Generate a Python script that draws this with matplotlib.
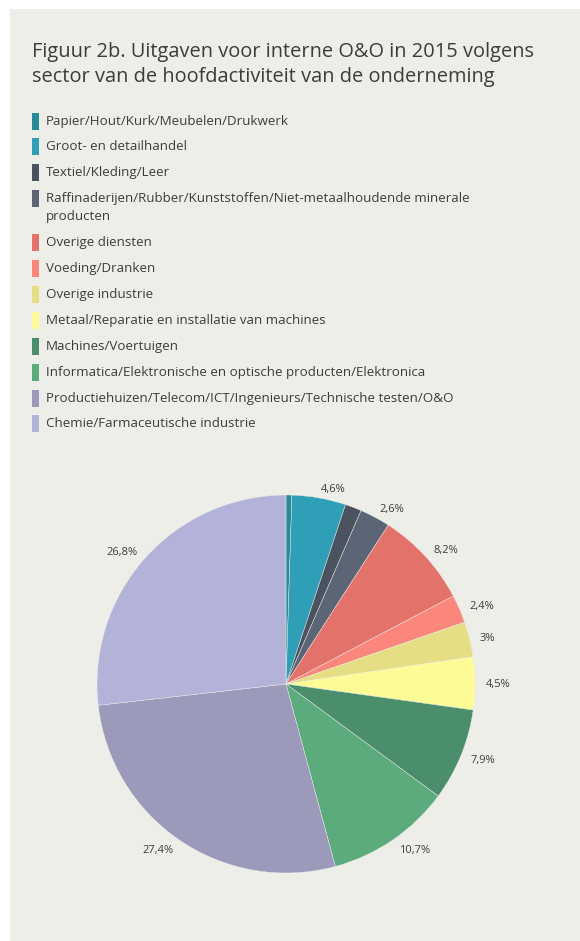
import numpy as np
import matplotlib
matplotlib.use("Agg")
import matplotlib.pyplot as plt
from matplotlib.patches import Rectangle

# --- data ---
sectors = [
    "Papier/Hout/Kurk/Meubelen/Drukwerk",
    "Groot- en detailhandel",
    "Textiel/Kleding/Leer",
    "Raffinaderijen/Rubber/Kunststoffen/Niet-metaalhoudende minerale\nproducten",
    "Overige diensten",
    "Voeding/Dranken",
    "Overige industrie",
    "Metaal/Reparatie en installatie van machines",
    "Machines/Voertuigen",
    "Informatica/Elektronische en optische producten/Elektronica",
    "Productiehuizen/Telecom/ICT/Ingenieurs/Technische testen/O&O",
    "Chemie/Farmaceutische industrie",
]
shares = [0.5, 4.6, 1.4, 2.6, 8.2, 2.4, 3.0, 4.5, 7.9, 10.7, 27.4, 26.8]
show_label = [False, True, False, True, True, True, True, True, True, True, True, True]
colors = ["#268a99", "#2e9fb6", "#4b5260", "#5b6576", "#e3726a", "#fb877c",
          "#e6de85", "#fdfb95", "#4a8e6b", "#5bab7d", "#9c9aba", "#b3b3da"]

BG = "#eeeee9"
TXT = "#3c3c3c"
plt.rcParams["font.family"] = ["Open Sans", "DejaVu Sans"]

W, H = 580, 941
fig = plt.figure(figsize=(W / 100, H / 100), dpi=100)
fig.patch.set_facecolor("white")

# grey panel behind everything
panel = Rectangle((10 / W, 0), 1 - 10 / W, 1 - 9 / H, transform=fig.transFigure,
                  facecolor=BG, edgecolor="none", zorder=-10)
fig.add_artist(panel)

# title
fig.text(32 / W, 1 - 57 / H, "Figuur 2b. Uitgaven voor interne O&O in 2015 volgens",
         fontsize=14.4, color=TXT, va="baseline", ha="left")
fig.text(32 / W, 1 - 82 / H, "sector van de hoofdactiviteit van de onderneming",
         fontsize=14.4, color=TXT, va="baseline", ha="left")

# legend, drawn by hand
y = 121
for name, col in zip(sectors, colors):
    fig.add_artist(Rectangle((32 / W, 1 - (y + 8.5) / H), 7 / W, 17 / H,
                             transform=fig.transFigure, facecolor=col,
                             edgecolor="none", zorder=2))
    if "\n" in name:
        first, second = name.split("\n")
        fig.text(46 / W, 1 - y / H, first, fontsize=9.6, color=TXT, va="center")
        fig.text(46 / W, 1 - (y + 18) / H, second, fontsize=9.6, color=TXT, va="center")
        y += 44
    else:
        fig.text(46 / W, 1 - y / H, name, fontsize=9.6, color=TXT, va="center")
        y += 25.9

# pie
cx, cy, r = 286, 684, 189
ax = fig.add_axes([(cx - r) / W, 1 - (cy + r) / H, 2 * r / W, 2 * r / H], zorder=5)
ax.set_facecolor("none")
wedges, _ = ax.pie(shares, colors=colors, startangle=90, counterclock=False,
                   radius=1.0, wedgeprops=dict(edgecolor=BG, linewidth=0.3))
ax.set_xlim(-1, 1)
ax.set_ylim(-1, 1)
ax.set_aspect("equal")
ax.axis("off")

for w, v, lab in zip(wedges, shares, show_label):
    if not lab:
        continue
    ang = np.deg2rad((w.theta1 + w.theta2) / 2)
    x, yy = 1.055 * np.cos(ang), 1.055 * np.sin(ang)
    txt = f"{v:g}".replace(".", ",") + "%"
    ax.text(x, yy, txt, ha="left" if x > 0 else "right", va="center_baseline",
            fontsize=8.0, color=TXT, clip_on=False)

fig.savefig("out.png", dpi=100, facecolor=fig.get_facecolor())
